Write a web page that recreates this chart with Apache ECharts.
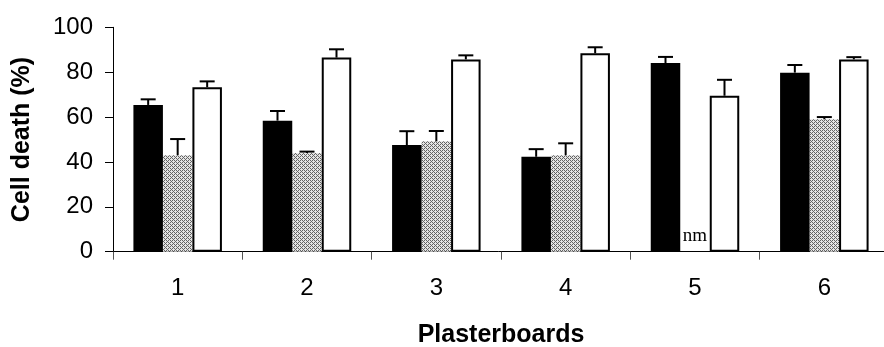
<!DOCTYPE html>
<html>
<head>
<meta charset="utf-8">
<script src="https://cdn.jsdelivr.net/npm/echarts@6/dist/echarts.min.js"></script>
<style>
html,body{margin:0;padding:0;background:#fff;}
#chart{width:884px;height:347px;}
</style>
</head>
<body>
<div id="chart"></div>
<script>
const categories = ['1', '2', '3', '4', '5', '6'];
const blackValues = [65.4, 58.4, 47.5, 42.3, 84.1, 79.8];
const blackErrors = [2.5, 4.3, 6.2, 3.4, 2.7, 3.4];
const grayValues = [43.0, 44.0, 49.2, 43.0, null, 59.0];
const grayErrors = [7.2, 0.6, 4.6, 5.3, null, 1.0];
const whiteValues = [73.3, 86.5, 85.7, 88.4, 69.5, 85.7];
const whiteErrors = [2.6, 3.7, 1.8, 2.7, 7.1, 1.0];
const yTicks = [0, 20, 40, 60, 80, 100];
const notMeasuredLabel = 'nm';

const BAR_W = 29.5;

function makePattern() {
  const c = document.createElement('canvas');
  c.width = 4; c.height = 4;
  const ctx = c.getContext('2d');
  const img = ctx.createImageData(4, 4);
  const m = [
    [1,0,1,0],
    [0,0,0,1],
    [1,0,1,0],
    [0,1,0,0]
  ];
  for (let y = 0; y < 4; y++) {
    for (let x = 0; x < 4; x++) {
      const i = (y * 4 + x) * 4;
      const v = m[y][x] ? 100 : 228;
      img.data[i] = v; img.data[i+1] = v; img.data[i+2] = v; img.data[i+3] = 255;
    }
  }
  ctx.putImageData(img, 0, 0);
  return c;
}
const pattern = makePattern();

const chart = echarts.init(document.getElementById('chart'), null, {renderer: 'canvas'});

function errorSeries(values, errors, offsetIndex) {
  const data = [];
  values.forEach((v, i) => {
    if (v != null && errors[i] != null) data.push([i, v, v + errors[i]]);
  });
  return {
    type: 'custom',
    z: 5,
    silent: true,
    data: data,
    encode: {x: 0, y: [1, 2]},
    renderItem: function (params, api) {
      const ci = api.value(0);
      const p0 = api.coord([ci, api.value(1)]);
      const p1 = api.coord([ci, api.value(2)]);
      const x = p0[0] + offsetIndex * BAR_W;
      const capHalf = 7.5;
      return {
        type: 'group',
        children: [
          {type: 'line', shape: {x1: x, y1: p0[1], x2: x, y2: p1[1]}, style: {stroke: '#000', lineWidth: 2}},
          {type: 'line', shape: {x1: x - capHalf, y1: p1[1], x2: x + capHalf, y2: p1[1]}, style: {stroke: '#000', lineWidth: 2}}
        ]
      };
    }
  };
}

const grayData = grayValues.map(v => v == null ? {
  value: 0,
  label: {
    show: true, formatter: notMeasuredLabel, position: 'top', distance: 6,
    fontFamily: 'Liberation Serif', fontSize: 19, color: '#000'
  }
} : v);

const option = {
  backgroundColor: '#fff',
  animation: false,
  grid: {left: 113, top: 27.3, width: 776, bottom: 95.3, containLabel: false, outerBoundsMode: 'none'},
  xAxis: {
    type: 'category',
    data: categories,
    boundaryGap: true,
    name: 'Plasterboards',
    nameLocation: 'middle',
    nameGap: 71,
    nameTextStyle: {fontFamily: 'Liberation Sans', fontWeight: 'bold', fontSize: 25, color: '#000'},
    axisLine: {show: true, lineStyle: {color: '#000', width: 1}},
    axisTick: {show: true, inside: false, length: 8, alignWithLabel: false, lineStyle: {color: '#555'}},
    axisLabel: {fontFamily: 'Liberation Sans', fontSize: 24, color: '#000', margin: 25},
    splitLine: {show: false}
  },
  yAxis: {
    type: 'value',
    min: yTicks[0],
    max: yTicks[yTicks.length - 1],
    interval: yTicks[1] - yTicks[0],
    name: 'Cell death (%)',
    nameLocation: 'middle',
    nameGap: 78,
    nameRotate: 90,
    nameTextStyle: {fontFamily: 'Liberation Sans', fontWeight: 'bold', fontSize: 25, color: '#000'},
    axisLine: {show: true, lineStyle: {color: '#000', width: 1}},
    axisTick: {show: true, inside: false, length: 8, lineStyle: {color: '#000'}},
    axisLabel: {fontFamily: 'Liberation Sans', fontSize: 24, color: '#000', margin: 20},
    splitLine: {show: false}
  },
  series: [
    {
      type: 'bar', data: blackValues, barWidth: BAR_W, barGap: '0%',
      itemStyle: {color: '#000', borderColor: '#000', borderWidth: 2}, z: 3
    },
    {
      type: 'bar', data: grayData, barWidth: BAR_W, barGap: '0%',
      itemStyle: {color: {image: pattern, repeat: 'repeat'}, borderWidth: 0}, z: 2
    },
    {
      type: 'bar', data: whiteValues, barWidth: BAR_W, barGap: '0%',
      itemStyle: {color: '#fff', borderColor: '#000', borderWidth: 2}, z: 3
    },
    errorSeries(blackValues, blackErrors, -1),
    errorSeries(grayValues, grayErrors, 0),
    errorSeries(whiteValues, whiteErrors, 1)
  ]
};
chart.setOption(option);
</script>
</body>
</html>
